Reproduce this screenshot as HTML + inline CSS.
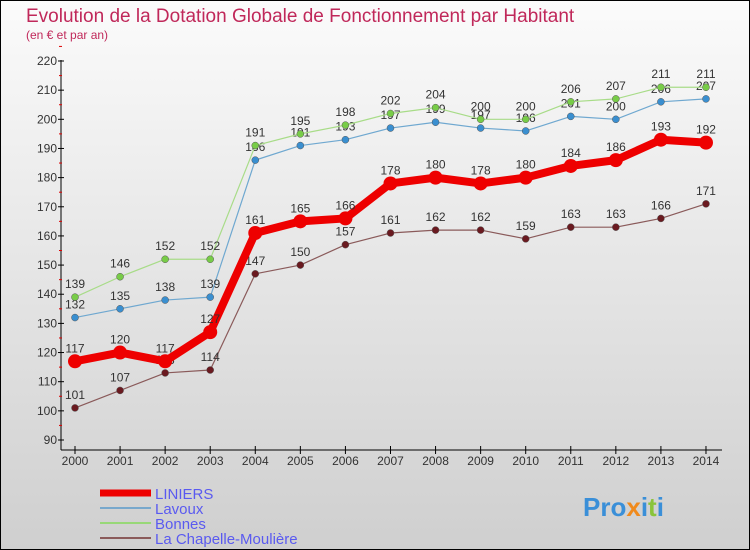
<!DOCTYPE html>
<html><head><meta charset="utf-8"><style>
body{margin:0;width:750px;height:550px;overflow:hidden;font-family:"Liberation Sans",sans-serif}
svg{display:block}
</style></head><body>
<svg id="c" width="750" height="550" xmlns="http://www.w3.org/2000/svg">
<defs><linearGradient id="bg" x1="0" y1="0" x2="0" y2="1"><stop offset="0" stop-color="#fbfbfb"/><stop offset="1" stop-color="#cfcfcf"/></linearGradient></defs>
<rect x="0.5" y="0.5" width="749" height="549" fill="url(#bg)" stroke="#000"/>
<text x="26" y="22" font-size="19" fill="#c0285a">Evolution de la Dotation Globale de Fonctionnement par Habitant</text>
<text x="26" y="39" font-size="12" fill="#c0285a">(en € et par an)</text>
<g id="axes"></g><g id="series"></g><g id="legend"></g>
<text x="583" y="516" font-size="26" font-weight="bold" fill="#3a8fd8">Pro<tspan fill="#f08a1c">x</tspan>i<tspan fill="#8ac43a">t</tspan>i</text>
</svg>
<script>
const years=[2000,2001,2002,2003,2004,2005,2006,2007,2008,2009,2010,2011,2012,2013,2014];
const liniers=[117,120,117,127,161,165,166,178,180,178,180,184,186,193,192];
const lavoux=[132,135,138,139,186,191,193,197,199,197,196,201,200,206,207];
const bonnes=[139,146,152,152,191,195,198,202,204,200,200,206,207,211,211];
const chapelle=[101,107,113,114,147,150,157,161,162,162,159,163,163,166,171];
const yTicks=[90,100,110,120,130,140,150,160,170,180,190,200,210,220];
const NS="http://www.w3.org/2000/svg";
const X=i=>75+i*45.07, Y=v=>440-(v-90)*(379/130);
function el(t,a,p){const e=document.createElementNS(NS,t);for(const k in a)e.setAttribute(k,a[k]);p.appendChild(e);return e;}
const ax=document.getElementById('axes');
let l=el('line',{x1:61,y1:60,x2:61,y2:450,stroke:'#000'},ax);


l=el('line',{x1:61,y1:450,x2:722,y2:450,stroke:'#000'},ax);


yTicks.forEach(v=>{const t=el('text',{x:57,y:Y(v)+4,'font-size':12,fill:'#333','text-anchor':'end'},ax);t.textContent=v;


el('line',{x1:58,y1:Y(v),x2:64,y2:Y(v),stroke:'#000'},ax);
el('line',{x1:59,y1:Y(v+5),x2:62,y2:Y(v+5),stroke:'#d00'},ax);});
years.forEach((y,i)=>{el('line',{x1:X(i),y1:446,x2:X(i),y2:454,stroke:'#000'},ax);
const t=el('text',{x:X(i),y:465,'font-size':12,fill:'#333','text-anchor':'middle'},ax);t.textContent=y;

});
const sg=document.getElementById('series');
function series(d,col,dot,w,r,name){
const g=el('g',{},sg);


el('polyline',{points:d.map((v,i)=>X(i)+','+Y(v)).join(' '),fill:'none',stroke:col,'stroke-width':w,'stroke-linejoin':'round'},g);
d.forEach((v,i)=>{const c=el('circle',{cx:X(i),cy:Y(v),r:r,fill:dot,stroke:'#555','stroke-width':r>4?0:0.5},g);


const t=el('text',{x:X(i),y:Y(v)-9,'font-size':12,fill:'#333','text-anchor':'middle'},g);t.textContent=v;

});}
series(chapelle,'#8a5a5a','#6a1a20',1.2,3.5,'series-chapelle');
series(lavoux,'#6fa8d0','#3a8fd0',1.2,3.5,'series-lavoux');
series(bonnes,'#a8dc88','#78cc48',1.2,3.5,'series-bonnes');
series(liniers,'#e00','#e00',8,7,'series-liniers');
const lg=document.getElementById('legend');
[['LINIERS','#e00',7],['Lavoux','#78a8cc',2],['Bonnes','#98d878',2],['La Chapelle-Moulière','#8a5a5a',2]].forEach((s,i)=>{
const y=493+i*15;
const g=el('g',{},lg);


el('line',{x1:100,y1:y,x2:151,y2:y,stroke:s[1],'stroke-width':s[2]},g);
const t=el('text',{x:155,y:y+6,'font-size':15,fill:'#5a5af0'},g);t.textContent=s[0];});
</script>
</body></html>
